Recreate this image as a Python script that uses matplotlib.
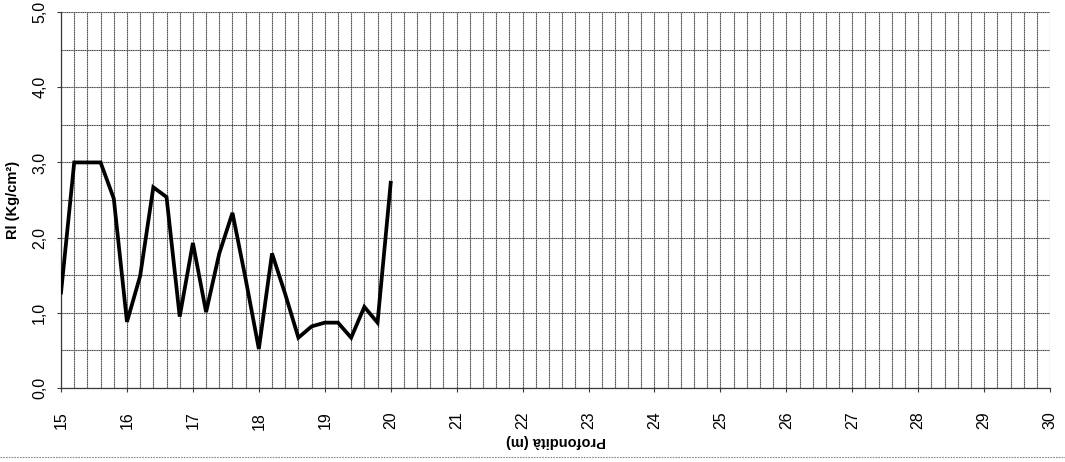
import matplotlib
matplotlib.use("Agg")
import matplotlib.pyplot as plt
from matplotlib.ticker import MultipleLocator, FuncFormatter
from matplotlib.lines import Line2D

plt.rcParams['font.family'] = ['Liberation Sans', 'DejaVu Sans']

# Penetrometric test: lateral resistance vs depth
depth = [15.0, 15.2, 15.4, 15.6, 15.8, 16.0, 16.2, 16.4, 16.6, 16.8,
         17.0, 17.2, 17.4, 17.6, 17.8, 18.0, 18.2, 18.4, 18.6, 18.8,
         19.0, 19.2, 19.4, 19.6, 19.8, 20.0]
rl = [1.27, 3.00, 3.00, 3.00, 2.52, 0.88, 1.49, 2.67, 2.54, 0.95,
      1.93, 1.01, 1.79, 2.33, 1.45, 0.52, 1.79, 1.25, 0.67, 0.82,
      0.87, 0.87, 0.67, 1.08, 0.87, 2.73]

x_label = "Profondità (m)"
y_label = "Rl (Kg/cm²)"

fig = plt.figure(figsize=(10.65, 4.62), dpi=100)
ax = fig.add_axes([0.0573, 0.160, 0.9287, 0.814])

ax.set_xlim(15, 30)
ax.set_ylim(0, 5)

ax.xaxis.set_major_locator(MultipleLocator(1))
ax.xaxis.set_minor_locator(MultipleLocator(0.2))
ax.yaxis.set_major_locator(MultipleLocator(1))
ax.yaxis.set_minor_locator(MultipleLocator(0.5))

grid_style = dict(color='#4a4a4a', linewidth=0.8, linestyle=(0, (1.2, 0.4)))
ax.grid(which='both', axis='both', **grid_style)
ax.set_axisbelow(True)

ax.plot(depth, rl, color='black', linewidth=2.7, solid_joinstyle='miter', zorder=3)

ax.xaxis.set_major_formatter(FuncFormatter(lambda v, p: f"{int(round(v))}"))
ax.yaxis.set_major_formatter(FuncFormatter(lambda v, p: f"{v:.1f}".replace('.', ',')))

ax.tick_params(which='minor', length=0)
ax.tick_params(which='major', direction='out', length=3, width=0.8, color='#3a3a3a')
ax.tick_params(axis='x', which='major', labelsize=11.5, labelrotation=90, pad=14)
ax.tick_params(axis='y', which='major', labelsize=11.5, labelrotation=90, pad=7)
for lab in ax.get_yticklabels():
    lab.set_va('center')

for s in ['top', 'right']:
    ax.spines[s].set_visible(False)
for s in ['left', 'bottom']:
    ax.spines[s].set_color('#3a3a3a')
    ax.spines[s].set_linewidth(0.9)

ax.set_ylabel(y_label, fontsize=10.5, fontweight='bold', labelpad=9)
ax.set_xlabel(x_label, fontsize=10.5, fontweight='bold', rotation=180, labelpad=3)

# page edge line at the bottom
fig.add_artist(Line2D([0, 1], [0.01, 0.01], transform=fig.transFigure,
                      color='#888888', linewidth=0.8, linestyle=(0, (1.5, 1))))

fig.savefig("out.png", dpi=100, facecolor='white')
